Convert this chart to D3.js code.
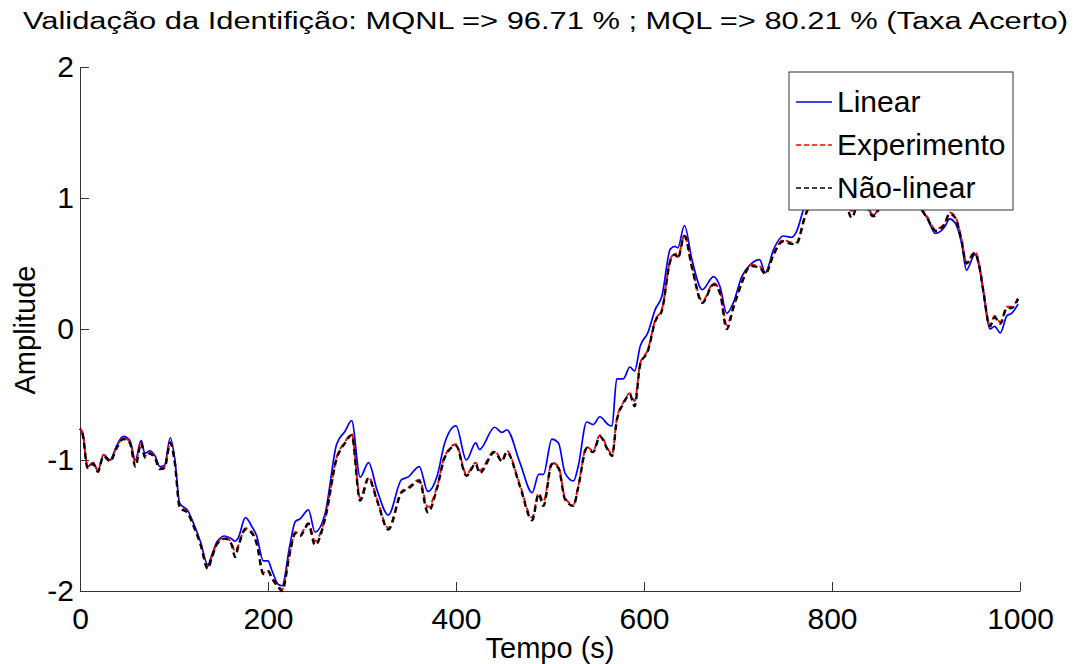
<!DOCTYPE html>
<html lang="pt">
<head>
  <meta charset="utf-8">
  <title>Validação da Identificação</title>
  <style>
    html,body { margin:0; padding:0; background:#fff; overflow:hidden; }
    svg { display:block; }
    .axis text { font-family:"Liberation Sans", Arial, sans-serif; font-size:30px; fill:#000; }
    .axis path, .axis line { stroke:#333; }
  </style>
  <script src="https://d3js.org/d3.v7.min.js"></script>
</head>
<body>
<svg width="1076" height="664"></svg>
<script>
// ---- data ----
const tempo = [0,3,8,14,19,25,32,39,46,53,59,65,69,74,80,85,90,96,101,106,115,120,128,136,140,146,154,161,165,168,176,183,188,195,200,204,211,215,223,229,234,243,250,261,273,282,289,298,307,316,328,342,349,361,370,380,388,400,411,421,425,441,449,454,468,481,488,493,502,509,516,525,530,539,546,553,562,566,571,578,585,590,596,604,612,619,628,633,636,643,651,662,674,681,688,695,704,713,723,729,738,748,757,762,771,780,790,800,810,821,830,844,852,865,880,894,901,910,920,925,931,938,943,952,957,961,968,973,979,986,991,998];

const experimento = [-0.76,-0.80,-1.05,-1.02,-1.08,-0.96,-1.00,-0.90,-0.83,-0.86,-1.02,-0.86,-0.97,-0.94,-0.98,-1.06,-1.05,-0.86,-1.02,-1.35,-1.40,-1.48,-1.63,-1.81,-1.74,-1.63,-1.59,-1.63,-1.70,-1.66,-1.52,-1.55,-1.63,-1.86,-1.84,-1.89,-1.96,-1.99,-1.71,-1.55,-1.57,-1.48,-1.62,-1.43,-0.98,-0.86,-0.80,-1.29,-1.13,-1.30,-1.52,-1.24,-1.21,-1.15,-1.36,-1.20,-0.97,-0.88,-1.11,-1.02,-1.08,-0.93,-1.00,-0.93,-1.19,-1.44,-1.25,-1.32,-1.02,-1.05,-1.29,-1.34,-1.20,-0.90,-0.93,-0.81,-0.92,-0.96,-0.69,-0.56,-0.49,-0.55,-0.26,-0.16,0.07,0.15,0.53,0.58,0.55,0.72,0.48,0.21,0.35,0.28,0.03,0.17,0.36,0.49,0.48,0.43,0.58,0.68,0.66,0.66,0.86,1.02,1.10,1.05,1.08,0.90,1.02,0.87,0.95,1.05,1.00,0.93,0.86,0.76,0.81,0.89,0.86,0.68,0.51,0.59,0.48,0.30,0.03,0.10,0.05,0.17,0.17,0.24];

const linear = [-0.76,-0.80,-1.05,-1.02,-1.08,-0.96,-1.00,-0.89,-0.82,-0.85,-1.00,-0.85,-0.95,-0.93,-0.97,-1.05,-1.04,-0.83,-1.00,-1.33,-1.39,-1.47,-1.62,-1.80,-1.73,-1.62,-1.58,-1.60,-1.62,-1.60,-1.44,-1.51,-1.58,-1.77,-1.77,-1.84,-1.95,-1.96,-1.66,-1.47,-1.45,-1.38,-1.55,-1.40,-0.88,-0.78,-0.70,-1.13,-1.02,-1.23,-1.42,-1.15,-1.13,-1.05,-1.24,-1.12,-0.87,-0.74,-1.00,-0.87,-0.92,-0.75,-0.79,-0.77,-1.02,-1.25,-1.11,-1.11,-0.84,-0.87,-1.10,-1.16,-1.05,-0.71,-0.73,-0.67,-0.73,-0.74,-0.38,-0.38,-0.29,-0.32,-0.13,-0.03,0.15,0.25,0.61,0.63,0.62,0.79,0.53,0.30,0.40,0.32,0.12,0.20,0.40,0.49,0.53,0.43,0.61,0.71,0.70,0.74,0.94,1.04,1.12,1.07,1.10,0.95,1.04,0.87,0.95,1.05,1.00,0.92,0.85,0.73,0.78,0.84,0.81,0.65,0.45,0.57,0.46,0.28,0.00,0.02,-0.03,0.10,0.12,0.19];

const naoLinear = [-0.76,-0.81,-1.06,-1.03,-1.09,-0.97,-1.01,-0.91,-0.84,-0.87,-1.05,-0.87,-0.98,-0.95,-0.99,-1.07,-1.06,-0.87,-1.03,-1.36,-1.41,-1.49,-1.64,-1.83,-1.75,-1.64,-1.60,-1.64,-1.74,-1.67,-1.53,-1.56,-1.64,-1.87,-1.85,-1.90,-1.97,-2.00,-1.72,-1.56,-1.58,-1.49,-1.65,-1.44,-0.99,-0.87,-0.81,-1.31,-1.14,-1.31,-1.53,-1.25,-1.22,-1.16,-1.40,-1.21,-0.98,-0.89,-1.12,-1.03,-1.10,-0.94,-1.01,-0.94,-1.20,-1.46,-1.26,-1.35,-1.03,-1.06,-1.30,-1.35,-1.21,-0.91,-0.94,-0.82,-0.93,-0.97,-0.70,-0.57,-0.50,-0.59,-0.27,-0.17,0.06,0.14,0.52,0.57,0.54,0.71,0.47,0.20,0.34,0.27,0.00,0.16,0.35,0.48,0.47,0.42,0.57,0.67,0.65,0.65,0.85,1.01,1.09,1.04,1.07,0.85,1.01,0.86,0.94,1.04,0.99,0.92,0.85,0.75,0.80,0.88,0.85,0.67,0.50,0.58,0.47,0.29,0.02,0.09,0.04,0.16,0.16,0.23];

const xTicks = [0, 200, 400, 600, 800, 1000];
const yTicks = [-2, -1, 0, 1, 2];
const legendNames = ["Linear", "Experimento", "Não-linear"];

// ---- layout ----
const svg = d3.select("svg");
const x = d3.scaleLinear().domain([0, 1000]).range([80, 1020]);
const y = d3.scaleLinear().domain([-2, 2]).range([591, 67]);

// title (condensed, like the original Helvetica Narrow look)
svg.append("text")
    .attr("x", 23).attr("y", 29)
    .attr("textLength", 1045).attr("lengthAdjust", "spacingAndGlyphs")
    .style("font-family", "'Liberation Sans', Arial, sans-serif")
    .style("font-size", "23px")
    .text("Validação da Identifição: MQNL => 96.71 % ; MQL => 80.21 % (Taxa Acerto)");

// axes (box off, ticks inward)
const gx = svg.append("g").attr("class", "axis")
    .attr("transform", `translate(0,${y(-2)})`)
    .call(d3.axisBottom(x).tickValues(xTicks).tickSizeInner(-9).tickSizeOuter(0).tickPadding(16)
      .tickFormat(d3.format("d")));
gx.selectAll("text").attr("dy", "0.72em");

const gy = svg.append("g").attr("class", "axis")
    .attr("transform", `translate(${x(0)},0)`)
    .call(d3.axisLeft(y).tickValues(yTicks).tickSizeInner(-9).tickSizeOuter(0).tickPadding(6)
      .tickFormat(d => d < 0 ? "-" + Math.abs(d) : String(d)));

// axis labels
svg.append("text")
    .attr("x", 550).attr("y", 658).attr("text-anchor", "middle")
    .style("font-family", "'Liberation Sans', Arial, sans-serif").style("font-size", "29px")
    .text("Tempo (s)");
svg.append("text")
    .attr("transform", "translate(35,330) rotate(-90)").attr("text-anchor", "middle")
    .style("font-family", "'Liberation Sans', Arial, sans-serif").style("font-size", "29px")
    .text("Amplitude");

// lines
const line = vals => d3.line()
    .x((d, i) => x(tempo[i]))
    .y(d => y(d))
    .curve(d3.curveMonotoneX)(vals);

const series = [
  { vals: linear,      color: "#0000ff", width: 1.7, dash: null },
  { vals: experimento, color: "#ff0000", width: 1.9, dash: "6,4" },
  { vals: naoLinear,   color: "#000000", width: 2.4, dash: "6,4", offset: 5 }
];

svg.append("g").selectAll("path")
  .data(series)
  .join("path")
    .attr("d", d => line(d.vals))
    .attr("fill", "none")
    .attr("stroke", d => d.color)
    .attr("stroke-width", d => d.width)
    .attr("stroke-dasharray", d => d.dash)
    .attr("stroke-dashoffset", d => d.offset || 0);

// legend
const lg = svg.append("g");
lg.append("rect")
    .attr("x", 789).attr("y", 72).attr("width", 224).attr("height", 138)
    .attr("fill", "#fff").attr("stroke", "#333");
const items = lg.selectAll("g.item")
  .data(legendNames)
  .join("g").attr("class", "item")
    .attr("transform", (d, i) => `translate(0,${112 + i * 43})`);
items.append("line")
    .attr("x1", 796).attr("x2", 832).attr("y1", -10).attr("y2", -10)
    .attr("stroke", (d, i) => ["#0000ff", "#ff0000", "#000000"][i])
    .attr("stroke-width", 1.3)
    .attr("stroke-dasharray", (d, i) => i === 0 ? null : "5,3");
items.append("text")
    .attr("x", 837)
    .style("font-family", "'Liberation Sans', Arial, sans-serif").style("font-size", "30px")
    .text(d => d);
</script>
</body>
</html>
